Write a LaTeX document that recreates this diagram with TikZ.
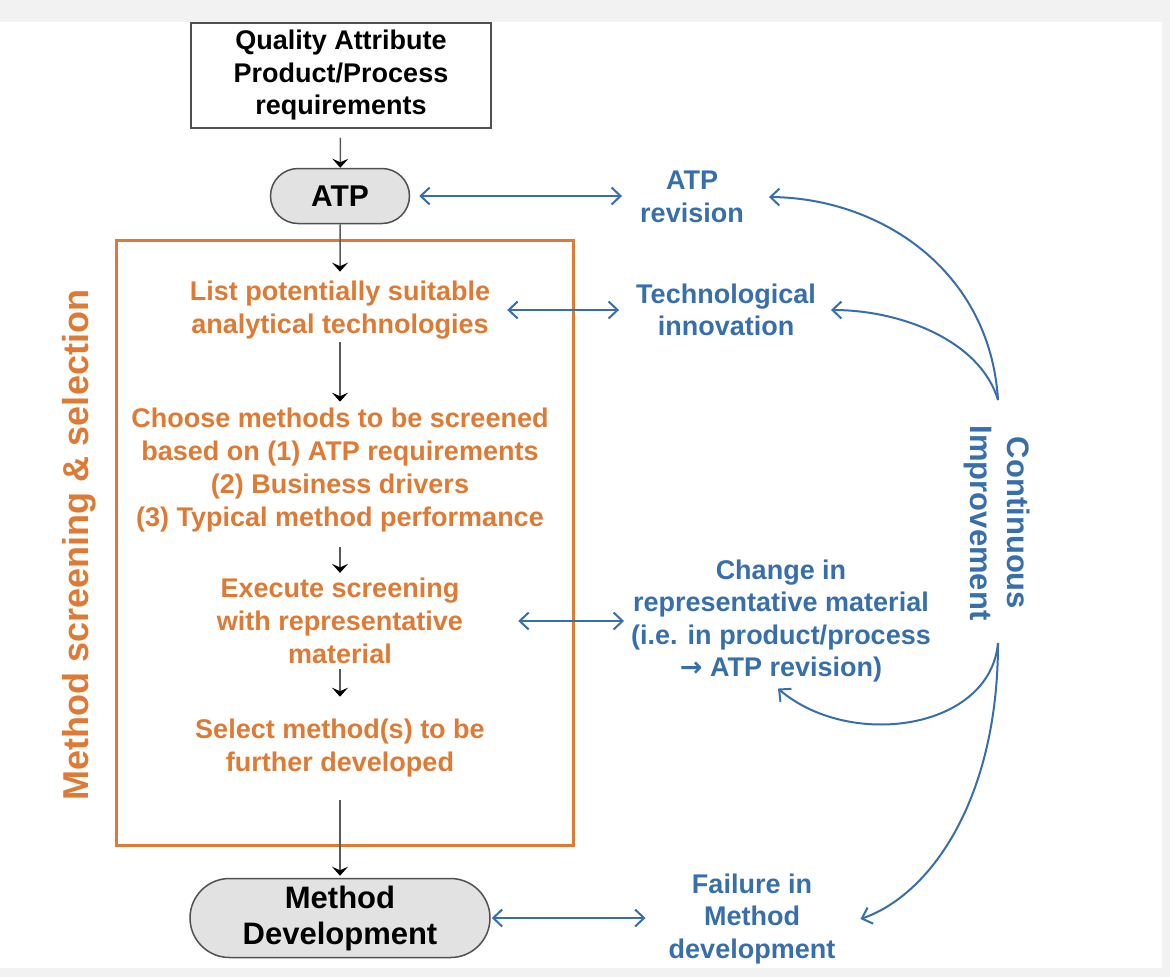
\documentclass[tikz,border=0pt]{standalone}
\usepackage{fontspec}
\setmainfont{Liberation Sans}
\usetikzlibrary{shapes.misc,arrows.meta}
\definecolor{cblue}{RGB}{55,110,172}
\definecolor{corange}{RGB}{222,122,52}
\definecolor{cline}{RGB}{80,80,80}
\begin{document}
\begin{tikzpicture}[x=1pt,y=-1pt,
  blk/.style={draw=black!65, line width=1.5pt, -{Stealth[length=9pt,width=16pt,inset=3.5pt,color=black]}},
  barrow/.style={draw=cblue, line width=2pt, {Straight Barb[length=9pt,width=17pt]}-{Straight Barb[length=9pt,width=17pt]}},
  carrow/.style={draw=cblue, line width=2pt, -{Straight Barb[length=9pt,width=17pt]}},
  otext/.style={text=corange, align=center, inner sep=0pt, font=\fontsize{27}{33}\selectfont\bfseries},
  btext/.style={text=cblue, align=center, inner sep=0pt, font=\fontsize{27}{32.5}\selectfont\bfseries},
  pill/.style={rounded rectangle, draw=cline, line width=1.5pt, fill=gray!23, align=center, inner sep=0pt}
]
\useasboundingbox (0,0) rectangle (1170,977);
\fill[gray!10] (0,0) rectangle (1170,977);
\fill[white] (0,22) rectangle (1162,968);

% black flow
\node[draw=cline, line width=1.5pt, minimum width=300, minimum height=105, align=center, inner sep=0pt,
      font=\fontsize{27}{32.5}\selectfont\bfseries] (qa) at (341,75.5)
      {Quality Attribute\\Product/Process\\requirements};
\node[pill, minimum width=139, minimum height=55, font=\fontsize{30}{34}\selectfont\bfseries] (atp) at (340,196) {ATP};

% orange box
\node[draw=corange, line width=3pt, minimum width=457, minimum height=605, inner sep=0pt] (screen) at (344.5,542.5) {};
\node[rotate=90, text=corange, inner sep=0pt, font=\fontsize{36}{40}\selectfont\bfseries] (mss) at (79,545)
      {Method screening \& selection};

\node[otext] (list) at (340,310) {List potentially suitable\\analytical technologies};
\node[otext] (choose) at (340,470) {Choose methods to be screened\\based on (1) ATP requirements\\(2) Business drivers\\(3) Typical method performance};
\node[otext] (exec) at (340,621) {Execute screening\\with representative\\material};
\node[otext] (sel) at (340,748) {Select method(s) to be\\further developed};

\node[pill, minimum width=300, minimum height=79, font=\fontsize{31}{36}\selectfont\bfseries] (md) at (340,918) {Method\\Development};

\draw[blk, shorten <=9pt] (qa) -- (atp);
\draw[blk, shorten >=9pt] (atp) -- (list);
\draw[blk, shorten <=3pt, shorten >=6pt] (list) -- (choose);
\draw[blk, shorten <=15pt, shorten >=5pt] (choose) -- (exec);
\draw[blk, shorten <=5pt, shorten >=22pt] (exec) -- (sel);
\draw[blk, shorten <=23pt, shorten >=2pt] (sel) -- (md);

% blue side
\node[btext] (atprev) at (692,197) {ATP\\revision};
\node[btext] (tech) at (726,310) {Technological\\innovation};
\node[btext] (change) at (781,621) {Change in\\representative material\\(i.e. in product/process\\{\fontspec{DejaVu Sans}\bfseries →} ATP revision)};
\node[btext] (fail) at (752,919) {Failure in\\Method\\development};
\node[btext, rotate=-90, font=\fontsize{31}{37}\selectfont\bfseries] (ci) at (997,523) {Continuous\\Improvement};

\draw[barrow, shorten <=9pt, shorten >=18pt] (atp.east) -- (atp.east -| atprev.west);
\draw[barrow, shorten <=17pt, shorten >=17pt] (list.east) -- (list.east -| tech.west);
\draw[barrow, shorten <=55pt, shorten >=7pt] (exec.east) -- (exec.east -| change.west);
\draw[barrow, shorten <=1pt, shorten >=23pt] (md.east) -- (md.east -| fail.west);

\coordinate (citop) at (998,400);
\coordinate (cibot) at (998,643);
\draw[carrow] (citop) .. controls (990,270) and (880,198) .. ([xshift=25pt]atprev.east);
\draw[carrow] (citop) .. controls (980,340) and (900,310) .. ([xshift=15pt]tech.east);
\draw[carrow] (cibot) .. controls (990,730) and (850,750) .. ([shift={(-3pt,-6pt)}]change.south);
\draw[carrow] (cibot) .. controls (998,800) and (930,895) .. ([xshift=25pt]fail.east);
\end{tikzpicture}
\end{document}
